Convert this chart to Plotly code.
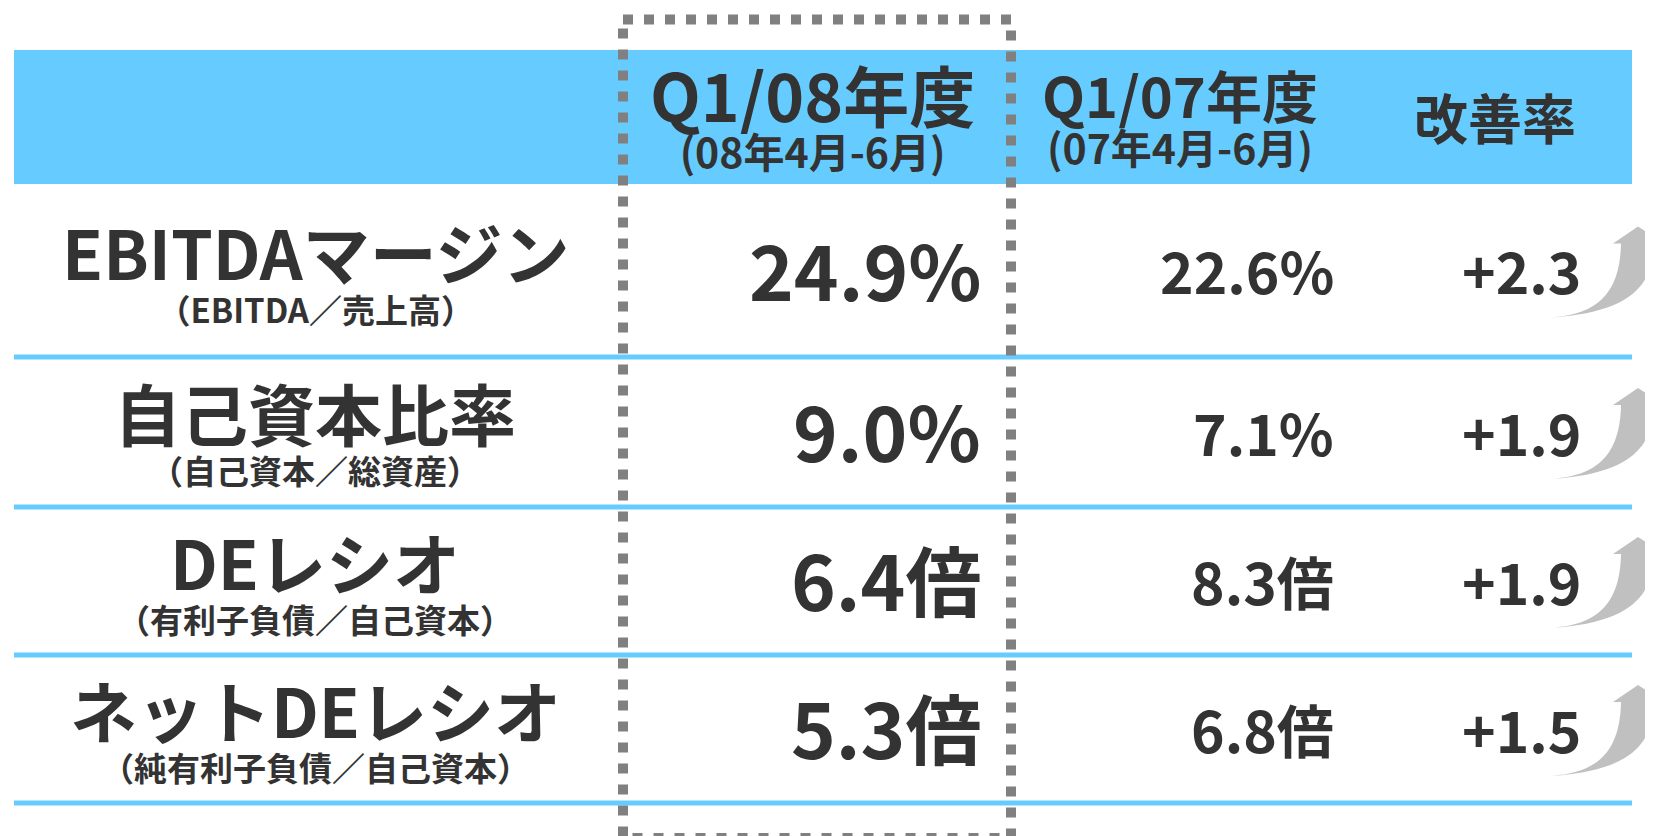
import plotly.graph_objects as go

# ---------------- data ----------------
metrics = ["EBITDAマージン", "自己資本比率", "DEレシオ", "ネットDEレシオ"]
formulas = ["（EBITDA／売上高）", "（自己資本／総資産）", "（有利子負債／自己資本）", "（純有利子負債／自己資本）"]
q1_08 = [24.9, 9.0, 6.4, 5.3]
q1_07 = [22.6, 7.1, 8.3, 6.8]
improvement = [2.3, 1.9, 1.9, 1.5]
units = ["%", "%", "倍", "倍"]
header_main = ["Q1/08年度", "Q1/07年度", "改善率"]
header_sub = ["(08年4月-6月)", "(07年4月-6月)", ""]

# ---------------- style / layout ----------------
W, H = 1653, 836
OFF = 8  # page body margin compensation
BLUE = "#66CCFF"
TXT = "#333333"
GRAY = "#808080"
FONT = "Noto Sans CJK JP"

row_edges = [184, 357, 507, 655, 803]
row_centers = [(row_edges[i] + row_edges[i + 1]) / 2 for i in range(len(metrics))]

fig = go.Figure()
shapes = []
annotations = []

# header band
shapes.append(dict(type="rect", xref="x", yref="y", x0=14, x1=1632, y0=50, y1=184,
                   fillcolor=BLUE, line=dict(width=0), layer="below"))
# row separators
for y in row_edges[1:]:
    shapes.append(dict(type="line", xref="x", yref="y", x0=14, x1=1632, y0=y, y1=y,
                       line=dict(color=BLUE, width=5), layer="below"))


def ann(x, y, text, size, xanchor="center"):
    annotations.append(dict(x=x, y=y, xref="x", yref="y", text=text, showarrow=False,
                            xanchor=xanchor, yanchor="middle",
                            font=dict(family=FONT, size=size, color=TXT, weight="bold")))


def two_line(main, main_size, sub, sub_size):
    return (f"<span style='font-size:{main_size}px'>{main}</span><br>"
            f"<span style='font-size:{sub_size}px'>{sub}</span>")


# headers
ann(812, 112.4, two_line(header_main[0], 66, header_sub[0], 41), 35.5)
ann(1180, 114, two_line(header_main[1], 56, header_sub[1], 41), 35.7)
ann(1495, 116, header_main[2], 54)

# rows
for i, yc in enumerate(row_centers):
    ann(315, yc - 3.5, two_line(metrics[i], 67, formulas[i], 33), 33)
    ann(983, yc - 3, f"{q1_08[i]:.1f}{units[i]}", 76, xanchor="right")
    ann(1336, yc - 1.5, f"{q1_07[i]:.1f}{units[i]}", 57, xanchor="right")
    ann(1583, yc - 1.5, f"+{improvement[i]:.1f}", 57, xanchor="right")
    # curved improvement arrow
    p = (f"M 1551,{yc+47} C 1590,{yc+44} 1620,{yc+30} 1621,{yc-27} "
         f"L 1613,{yc-27} L 1638,{yc-44} L 1664,{yc-27} L 1653,{yc-27} "
         f"C 1654,{yc+15} 1630,{yc+42} 1551,{yc+47} Z")
    shapes.append(dict(type="path", xref="x", yref="y", path=p,
                       fillcolor="#c0c0c0", line=dict(width=0)))

# dotted highlight frame around current quarter column
shapes.append(dict(type="rect", xref="x", yref="y", x0=623, x1=1011, y0=19.5, y1=838,
                   fillcolor="rgba(0,0,0,0)", line=dict(color=GRAY, width=10, dash="10px,11px")))

fig.update_layout(
    width=W, height=H,
    margin=dict(l=0, r=0, t=0, b=0),
    paper_bgcolor="white", plot_bgcolor="white",
    xaxis=dict(range=[OFF, W + OFF], visible=False, fixedrange=True),
    yaxis=dict(range=[H + OFF, OFF], visible=False, fixedrange=True),
    shapes=shapes, annotations=annotations, showlegend=False,
)
fig.write_html("out.html", config={"displayModeBar": False})
